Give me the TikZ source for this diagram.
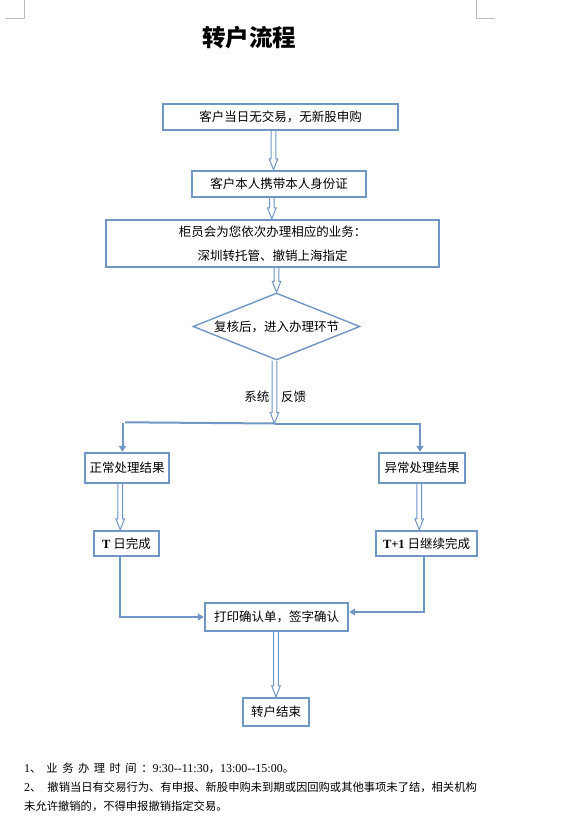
\documentclass[tikz,border=0pt]{standalone}
\usepackage{fontspec}
\setmainfont{Liberation Serif}
\newfontfamily\cjk{Noto Sans CJK SC}
\usepackage{tikz}
\usetikzlibrary{
  arrows.meta,
  shapes.geometric,
  calc
}
\definecolor{flowblue}{RGB}{112,150,196}
\definecolor{markgray}{RGB}{190,190,190}

% hollow double arrow, straight down, from #1 to #2, shifted by #3
\newcommand{\dblarr}[3]{%
  \draw[dblline] let \p1=($(#1)+(#3,0)$), \p2=($(#2)+(#3,0)$) in
    (\x2-2.3pt,\y1) -- (\x2-2.3pt,\y2+11pt) -- (\x2-4.3pt,\y2+11pt) -- (\x2,\y2)
    -- (\x2+4.3pt,\y2+11pt) -- (\x2+2.3pt,\y2+11pt) -- (\x2+2.3pt,\y1);
}
\newcommand{\latin}[1]{{\rmfamily\fontsize{12}{14}\selectfont #1}}

\begin{document}
\begin{tikzpicture}[
            x=1pt, y=-1pt,
            box/.style={draw=flowblue, line width=2.4pt, inner sep=0pt, align=center, font=\cjk\fontsize{12.5}{24}\selectfont},
            dia/.style={draw=flowblue, line width=1.4pt, diamond, aspect=2.5, inner sep=0pt, font=\cjk\fontsize{12.5}{15}\selectfont},
            dblline/.style={draw=flowblue, line width=1pt, fill=white},
            conn/.style={draw=flowblue, line width=2pt, -{Triangle[length=6pt, width=7pt]}},
            note/.style={anchor=west, inner sep=0pt, font=\cjk\fontsize{11.3}{14}\selectfont}
        ]
            \useasboundingbox (0,0) rectangle (577,827);
            % page corner marks
            \draw[markgray, line width=0.7pt] (5,18) -- (24,18) -- (24,0);
            \draw[markgray, line width=0.7pt] (476,0) -- (476,18) -- (495,18);

            \node[font=\cjk\bfseries\fontsize{23.5}{26}\selectfont] (title) at (249,38) {转户流程};

            % main column
            \node[box, minimum width=235pt, minimum height=26pt] (notrade) at (280.5,117) {客户当日无交易，无新股申购};
            \node[box, minimum width=174pt, minimum height=26pt] (idcard) at (279,184) {客户本人携带本人身份证};
            \node[box, minimum width=333pt, minimum height=47pt] (teller) at (272.5,243.5) {柜员会为您依次办理相应的业务：\\深圳转托管、撤销上海指定};
            \node[dia, minimum width=167pt, minimum height=67pt] (review) at (276.5,326.5) {复核后，进入办理环节};
            \node[font=\cjk\fontsize{12.5}{15}\selectfont] (feedback) at (275.3,397) {系统\hspace{11.7pt}反馈};
            \coordinate (split) at (274.5,423.5);

            % two branches
            \node[box, minimum width=84pt, minimum height=30pt] (normal) at (127,468) {正常处理结果};
            \node[box, minimum width=86pt, minimum height=30pt] (abnormal) at (422,468) {异常处理结果};
            \node[box, minimum width=65pt, minimum height=25pt] (tday) at (126.5,543.5) {{\rmfamily\bfseries T} 日完成};
            \node[box, minimum width=101pt, minimum height=25pt] (tnext) at (426.5,543.5) {{\rmfamily\bfseries T+1} 日继续完成};

            % join and end
            \node[box, minimum width=143pt, minimum height=28pt] (confirm) at (276.5,617) {打印确认单，签字确认};
            \node[box, minimum width=66pt, minimum height=28pt] (finish) at (276,712) {转户结束};

            % connectors
            \dblarr{notrade.south}{idcard.north}{-5.5}
            \dblarr{idcard.south}{teller.north}{-0.7}
            \dblarr{teller.south}{review.north}{0}
            \dblarr{review.south}{split}{0}
            \dblarr{normal.south}{tday.north}{-6.3}
            \dblarr{abnormal.south}{tnext.north}{-7.3}
            \dblarr{confirm.south}{finish.north}{0}

            \draw[flowblue, line width=2pt] (split) -- ($(normal.north)+(-2,-29.5)$);
            \draw[conn] ($(normal.north)+(-4.5,-29)$) -- ($(normal.north)+(-4.5,0)$);
            \draw[conn] (split) -| ($(abnormal.north)+(-2,0)$);
            \draw[conn] ($(tday.south)+(-6.5,0)$) |- (confirm.west);
            \draw[conn] ($(tnext.south)+(-2.5,0)$) |- ($(confirm.east)+(0,-5)$);

            % notes
            \node[note] (note1) at (24,768) {\latin{1}、\hspace{5pt}业\hspace{4.5pt}务\hspace{4.5pt}办\hspace{4.5pt}理\hspace{4.5pt}时\hspace{4.5pt}间\hspace{4.5pt}：\latin{9:30-{}-11:30}，\latin{13:00-{}-15:00}。};
            \node[note] (note2) at (24,787) {\latin{2}、\hspace{6pt}撤销当日有交易行为、有申报、新股申购未到期或因回购或其他事项未了结，相关机构};
            \node[note] (note3) at (24,806) {未允许撤销的，不得申报撤销指定交易。};
        \end{tikzpicture}
\end{document}
